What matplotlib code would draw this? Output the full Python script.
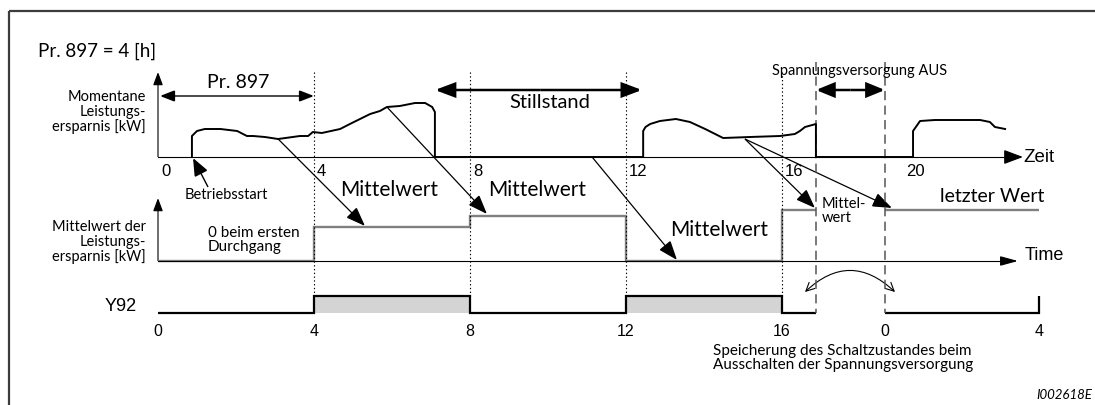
import numpy as np
import matplotlib
matplotlib.use('Agg')
import matplotlib.pyplot as plt
from matplotlib.patches import FancyArrowPatch

# ---- data (hours / kW) ----
# instantaneous power saving, one continuous trace
curve_t = [0.87, 0.87, 1.0, 1.2, 1.6, 2.03, 2.28, 2.44, 2.74, 3.08, 3.64, 3.85, 3.97, 4.2,
           4.67, 4.92, 5.18, 5.44, 5.69, 5.87, 6.2, 6.59, 6.85, 7.03, 7.1, 7.1,
           12.44, 12.44, 12.5, 12.62, 12.87, 13.28, 13.64, 14.03, 14.49, 15.18, 15.95,
           16.33, 16.46, 16.59, 16.87, 16.87,
           19.36, 19.36, 19.54, 19.92, 20.56, 21.08, 21.33, 21.46, 21.72]
curve_kw = [0, 2.1, 2.6, 2.8, 2.8, 2.6, 2.1, 2.1, 2.0, 1.8, 2.1, 2.1, 2.5, 2.4,
            2.8, 3.3, 3.8, 4.3, 4.6, 5.0, 5.1, 5.4, 5.4, 5.0, 4.5, 0,
            0, 2.6, 3.0, 3.3, 3.6, 3.8, 3.5, 2.8, 1.9, 2.0, 2.1,
            2.3, 2.6, 3.0, 3.3, 0,
            0, 2.6, 3.6, 3.7, 3.7, 3.7, 3.5, 3.0, 2.8]

# average power saving (step output)
mean_edges = [0, 4, 8, 12, 16, 16.87]
mean_kw = [0, 3.4, 4.5, 0, 5.1]
mean_edges_after = [18.64, 22.6]
mean_kw_after = [5.1]

# Y92 output state
y92_edges = [0, 4, 8, 12, 16, 16.87]
y92_state = [0, 1, 0, 1, 0]
y92_edges_after = [18.64, 22.6, 22.6]
y92_state_after = [0, 1]

top_ticks = [0, 4, 8, 12, 16, 19.1]
top_tick_labels = ['0', '4', '8', '12', '16', '20']
bottom_ticks = [0, 4, 8, 12, 16, 18.64, 22.6]
bottom_tick_labels = ['0', '4', '8', '12', '16', '0', '4']
period_marks = [4, 8, 12, 16]
power_off = [16.87, 18.64]

# ---- layout (pixel rows, x in hours) ----
PX_H = 39.0
X0 = 158
KW = 10.0             # px per kW
TOP_BASE = 158
MID_BASE = 262
Y92_LOW, Y92_HIGH = 314, 297

SANS = ['Lato', 'DejaVu Sans']
ARIAL = ['Liberation Sans', 'DejaVu Sans']

fig = plt.figure(figsize=(10.95, 4.06), dpi=100)
ax = fig.add_axes([0, 0, 1, 1])
ax.set_xlim(-X0 / PX_H, (1095 - X0) / PX_H)
ax.set_ylim(406, 0)
ax.axis('off')


def t(px):
    return (px - X0) / PX_H


def arrow(tail, tip, hl=10, hw=4, lw=1.0, style='-|>', color='black'):
    a = FancyArrowPatch(tail, tip, arrowstyle=f'{style},head_length={hl},head_width={hw}',
                        mutation_scale=1, lw=lw, color=color, shrinkA=0, shrinkB=0,
                        joinstyle='miter', capstyle='butt')
    ax.add_patch(a)


# frame
ax.plot([t(9), t(1095)], [12, 12], color='#3c3c3c', lw=1.6, solid_capstyle='butt')
ax.plot([t(9), t(9)], [12, 406], color='#3c3c3c', lw=1.6, solid_capstyle='butt')

# vertical markers
for m in period_marks:
    ax.plot([m, m], [73, Y92_HIGH], color='black', lw=0.8, ls=(0, (1.2, 2.2)))
for m in power_off:
    ax.plot([m, m], [63, Y92_LOW], color='#555555', lw=1.1, ls=(0, (6, 3.5)))

# ---- top panel ----
ax.plot([0, t(1010)], [TOP_BASE, TOP_BASE], color='black', lw=0.8)
arrow((t(1005), TOP_BASE), (t(1023), TOP_BASE), hl=12, hw=4.5, lw=0.8)
arrow((0, TOP_BASE), (0, 73), hl=8, hw=3, lw=0.8)
ax.plot(curve_t, TOP_BASE - KW * np.array(curve_kw), color='black', lw=1.4,
        solid_joinstyle='round')

for v, s in zip(top_ticks, top_tick_labels):
    ax.text(v + 0.08, 172, s, family=ARIAL, fontsize=12, ha='left', va='center')
ax.text(t(1023), TOP_BASE, 'Zeit', family=ARIAL, fontsize=13.5, ha='left', va='center')

ax.text(t(38), 51, 'Pr. 897 = 4 [h]', family=SANS, fontsize=13.5, ha='left', va='center')
ax.text(t(238), 82, 'Pr. 897', family=SANS, fontsize=14, ha='center', va='center')
arrow((2.0, 97), (t(160), 97), hl=9, hw=3.5, lw=1)
arrow((2.0, 97), (4.0, 97), hl=9, hw=3.5, lw=1)
ax.text(t(146), 112, 'Momentane\nLeistungs-\nersparnis [kW]', family=SANS, fontsize=10.5,
        ha='right', va='center', multialignment='right', linespacing=1.05)

ax.text(t(550), 102, 'Stillstand', family=SANS, fontsize=14.5, ha='center', va='center')
arrow((9.8, 91), (7.1, 91), hl=12, hw=4.5, lw=1.8)
arrow((9.8, 91), (12.41, 91), hl=12, hw=4.5, lw=1.8)

ax.text(t(860), 71, 'Spannungsversorgung AUS', family=SANS, fontsize=10.5, ha='center',
        va='center')
arrow((17.75, 91), (power_off[0], 91), hl=11, hw=4.5, lw=1.8)
arrow((17.75, 91), (power_off[1], 91), hl=11, hw=4.5, lw=1.8)

ax.text(t(226), 195, 'Betriebsstart', family=SANS, fontsize=10.5, ha='center', va='center')
arrow((t(208), 188), (t(193), 159), hl=11, hw=4.5, lw=1)

# ---- middle panel ----
ax.plot([0, t(1005)], [MID_BASE, MID_BASE], color='black', lw=0.8)
arrow((t(1000), MID_BASE), (t(1018), MID_BASE), hl=11, hw=3, lw=0.8)
arrow((0, MID_BASE), (0, 199), hl=8, hw=3, lw=0.8)
ax.stairs(MID_BASE - KW * np.array(mean_kw), mean_edges, baseline=None,
          color='#808080', lw=1.7)
ax.stairs(MID_BASE - KW * np.array(mean_kw_after), mean_edges_after, baseline=None,
          color='#808080', lw=1.7)
ax.text(t(1025), 256, 'Time', family=ARIAL, fontsize=13, ha='left', va='center')
ax.text(t(146), 242, 'Mittelwert der\nLeistungs-\nersparnis [kW]', family=SANS,
        fontsize=10.5, ha='right', va='center', multialignment='right', linespacing=1.05)
ax.text(t(208), 240, '0 beim ersten\nDurchgang', family=SANS, fontsize=11, ha='left',
        va='center', linespacing=1.0)

# Mittelwert arrows
ax.text(t(340), 190, 'Mittelwert', family=SANS, fontsize=15, ha='left', va='center')
arrow((3.08, 140), (t(365), 227), hl=12, hw=4.5, lw=0.9)
ax.text(t(488), 190, 'Mittelwert', family=SANS, fontsize=15, ha='left', va='center')
arrow((5.87, 108), (t(487), 215), hl=12, hw=4.5, lw=0.9)
ax.text(t(670), 230, 'Mittelwert', family=SANS, fontsize=15, ha='left', va='center')
arrow((11.13, TOP_BASE), (t(677), 261), hl=12, hw=4.5, lw=0.9)
ax.text(t(822), 211, 'Mittel-\nwert', family=SANS, fontsize=10.5, ha='left', va='center',
        linespacing=1.0)
arrow((15.05, 140), (t(815), 209), hl=12, hw=4.5, lw=0.9)
ax.text(t(940), 197, 'letzter Wert', family=SANS, fontsize=14, ha='left', va='center')
arrow((15.05, 140), (t(892), 209), hl=12, hw=4.5, lw=0.9)

# ---- Y92 panel ----
for edges, states in [(y92_edges, y92_state), (y92_edges_after, y92_state_after)]:
    lv = Y92_LOW - (Y92_LOW - Y92_HIGH) * np.array(states)
    for a, b, s in zip(edges[:-1], edges[1:], states):
        if s:
            ax.fill_between([a, b], Y92_HIGH, Y92_LOW, color='#d4d4d4', lw=0)
    ax.stairs(lv, edges, baseline=None, color='black', lw=1.6)

ax.text(t(137), 307, 'Y92', family=ARIAL, fontsize=13, ha='right', va='center')
for v, s in zip(bottom_ticks, bottom_tick_labels):
    ax.text(v, 332, s, family=ARIAL, fontsize=11.5, ha='center', va='center')

swap = FancyArrowPatch((t(805), 293), (t(895), 293), connectionstyle='arc3,rad=-0.47',
                       arrowstyle='<->,head_length=6,head_width=3', mutation_scale=1,
                       lw=0.8, color='black', shrinkA=0, shrinkB=0)
ax.add_patch(swap)

ax.text(t(713), 358, 'Speicherung des Schaltzustandes beim\nAusschalten der Spannungsversorgung',
        family=SANS, fontsize=11, ha='left', va='center', linespacing=1.0)
ax.text(t(1092), 395, 'I002618E', family=SANS, fontsize=9.5, style='italic', ha='right',
        va='center')

fig.savefig('out.png', dpi=100)
